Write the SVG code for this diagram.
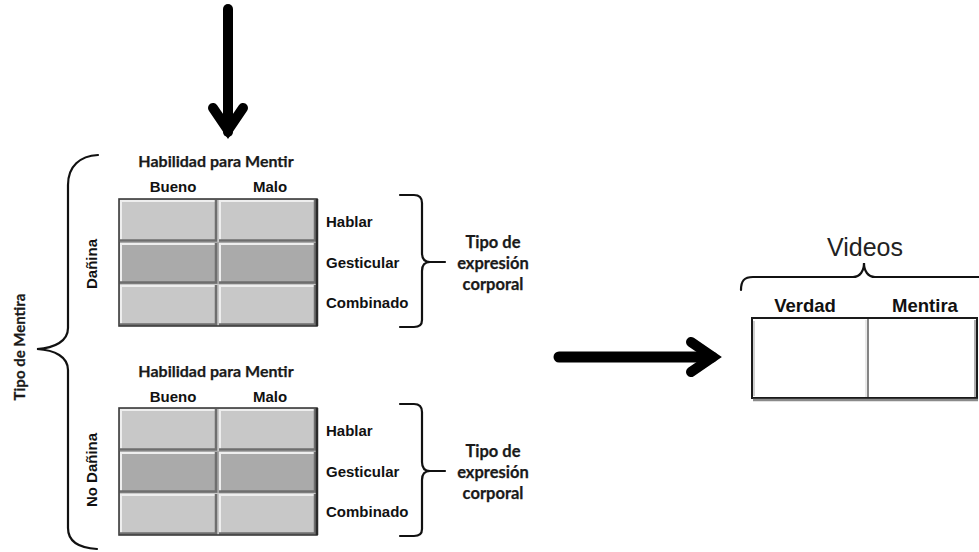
<svg xmlns="http://www.w3.org/2000/svg" width="979" height="552" viewBox="0 0 979 552">
<style>
.bg{fill:#ffffff}
.lt{fill:#c8c8c8}
.dk{fill:#aaaaaa}
.hi{fill:none;stroke:#eeeeee;stroke-width:2}
.sh{fill:none;stroke:#6e6e6e;stroke-width:2.5}
.frame{fill:none;stroke:#3a3a3a;stroke-width:1.6}
.fs{fill:none;stroke:#2a2a2a;stroke-width:2.5}
.ar{fill:none;stroke:#000;stroke-linecap:round;stroke-linejoin:miter;stroke-miterlimit:10}
.br{fill:none;stroke:#111;stroke-width:2.2;stroke-linecap:round}
.a{font-family:"Liberation Sans",Arial,sans-serif;font-weight:bold;fill:#111}
.c{font-family:Lato,"Open Sans",sans-serif;font-weight:bold;fill:#1a1a1a;stroke:#1a1a1a;stroke-width:0.25}
.s15{font-size:15px}
.s16{font-size:16px}
.s17{font-size:16.5px}
.mid{text-anchor:middle}
</style>
<rect class="bg" x="0" y="0" width="979" height="552"/>

<g id="connectors">
  <line class="ar" x1="228" y1="9" x2="228" y2="132" stroke-width="10"/>
  <polyline class="ar" points="213,108 228,130 243,108" stroke-width="10"/>
  <line class="ar" x1="559" y1="357" x2="712" y2="357" stroke-width="11"/>
  <polyline class="ar" points="691,342 713,357 691,372" stroke-width="10"/>
</g>

<g id="brace-tipo-mentira">
  <path class="br" d="M98,155 C80,156 68,166 68,185 L68,328 C68,341 55,348 37,349 C55,350 68,357 68,370 L68,528 C68,542 80,548 97,549"/>
  <text class="c s15 mid" transform="translate(25,347) rotate(-90)">Tipo de Mentira</text>
</g>

<g id="tabla-danina">
  <text class="c s16 mid" x="216" y="167">Habilidad para Mentir</text>
  <text class="a s15 mid" x="173" y="192">Bueno</text>
  <text class="a s15 mid" x="270" y="192">Malo</text>
  <text class="a s15 mid" transform="translate(97,264) rotate(-90)">Dañina</text>
  <rect class="lt" x="119" y="199" width="99" height="43"/>
  <rect class="lt" x="218" y="199" width="99" height="43"/>
  <rect class="dk" x="119" y="242" width="99" height="42"/>
  <rect class="dk" x="218" y="242" width="99" height="42"/>
  <rect class="lt" x="119" y="284" width="99" height="42"/>
  <rect class="lt" x="218" y="284" width="99" height="42"/>
  <path class="hi" d="M121,240 V201 H215 M220,240 V201 H314 M121,282 V244 H215 M220,282 V244 H314 M121,324 V286 H215 M220,324 V286 H314"/>
  <path class="sh" d="M216,200 V240.5 H120 M315,200 V240.5 H219 M216,243 V282.5 H120 M315,243 V282.5 H219 M216,285 V324.5 H120 M315,285 V324.5 H219"/>
  <rect class="frame" x="119" y="199" width="198" height="127"/>
  <line class="fs" x1="317" y1="199" x2="317" y2="326"/>
  <text class="a s15" x="326" y="227">Hablar</text>
  <text class="a s15" x="326" y="268">Gesticular</text>
  <text class="a s15" x="326" y="308">Combinado</text>
  <path class="br" d="M400,195 L414,195 C419,195 422,198 422,203 L422,253 C422,259 425,262 430,262 L445,262 M430,262 C425,262 422,265 422,271 L422,320 C422,325 419,327 414,327 L400,327"/>
  <text class="c s17 mid" x="493" y="248">Tipo de</text>
  <text class="c s17 mid" x="493" y="269">expresión</text>
  <text class="c s17 mid" x="493" y="290">corporal</text>
</g>

<g id="tabla-no-danina">
  <text class="c s16 mid" x="216" y="377">Habilidad para Mentir</text>
  <text class="a s15 mid" x="173" y="402">Bueno</text>
  <text class="a s15 mid" x="270" y="402">Malo</text>
  <text class="a s15 mid" transform="translate(97,470) rotate(-90)">No Dañina</text>
  <rect class="lt" x="119" y="408" width="99" height="43"/>
  <rect class="lt" x="218" y="408" width="99" height="43"/>
  <rect class="dk" x="119" y="451" width="99" height="42"/>
  <rect class="dk" x="218" y="451" width="99" height="42"/>
  <rect class="lt" x="119" y="493" width="99" height="42"/>
  <rect class="lt" x="218" y="493" width="99" height="42"/>
  <path class="hi" d="M121,449 V410 H215 M220,449 V410 H314 M121,491 V453 H215 M220,491 V453 H314 M121,533 V495 H215 M220,533 V495 H314"/>
  <path class="sh" d="M216,409 V449.5 H120 M315,409 V449.5 H219 M216,452 V491.5 H120 M315,452 V491.5 H219 M216,494 V533.5 H120 M315,494 V533.5 H219"/>
  <rect class="frame" x="119" y="408" width="198" height="127"/>
  <line class="fs" x1="317" y1="408" x2="317" y2="535"/>
  <text class="a s15" x="326" y="436">Hablar</text>
  <text class="a s15" x="326" y="477">Gesticular</text>
  <text class="a s15" x="326" y="517">Combinado</text>
  <path class="br" d="M400,404 L414,404 C419,404 422,407 422,412 L422,462 C422,468 425,471 430,471 L445,471 M430,471 C425,471 422,474 422,480 L422,529 C422,534 419,536 414,536 L400,536"/>
  <text class="c s17 mid" x="493" y="457">Tipo de</text>
  <text class="c s17 mid" x="493" y="478">expresión</text>
  <text class="c s17 mid" x="493" y="499">corporal</text>
</g>

<g id="videos">
  <text x="865" y="256" text-anchor="middle" style="font-family:'Liberation Sans',Arial,sans-serif;font-size:25px;fill:#222">Videos</text>
  <path class="br" d="M741,290 C741,281 744,277 753,277 L853,277 C860,277 864,271 864,263 C864,271 868,277 875,277 L985,277"/>
  <text class="a mid" x="805" y="312" style="font-size:18.5px">Verdad</text>
  <text class="a mid" x="925" y="312" style="font-size:18.5px">Mentira</text>
  <rect x="752" y="318" width="225" height="80" fill="#ffffff" stroke="#1a1a1a" stroke-width="2"/>
  <line x1="754" y1="321" x2="754" y2="396" stroke="#cfcfcf" stroke-width="2"/>
  <line x1="753" y1="400" x2="978" y2="400" stroke="#8a8a8a" stroke-width="2.5"/>
  <line x1="975" y1="320" x2="975" y2="397" stroke="#b0b0b0" stroke-width="2"/>
  <line x1="868" y1="319" x2="868" y2="397" stroke="#333" stroke-width="1.2"/>
  <line x1="866" y1="320" x2="866" y2="397" stroke="#e2e2e2" stroke-width="1.5"/>
</g>
</svg>
